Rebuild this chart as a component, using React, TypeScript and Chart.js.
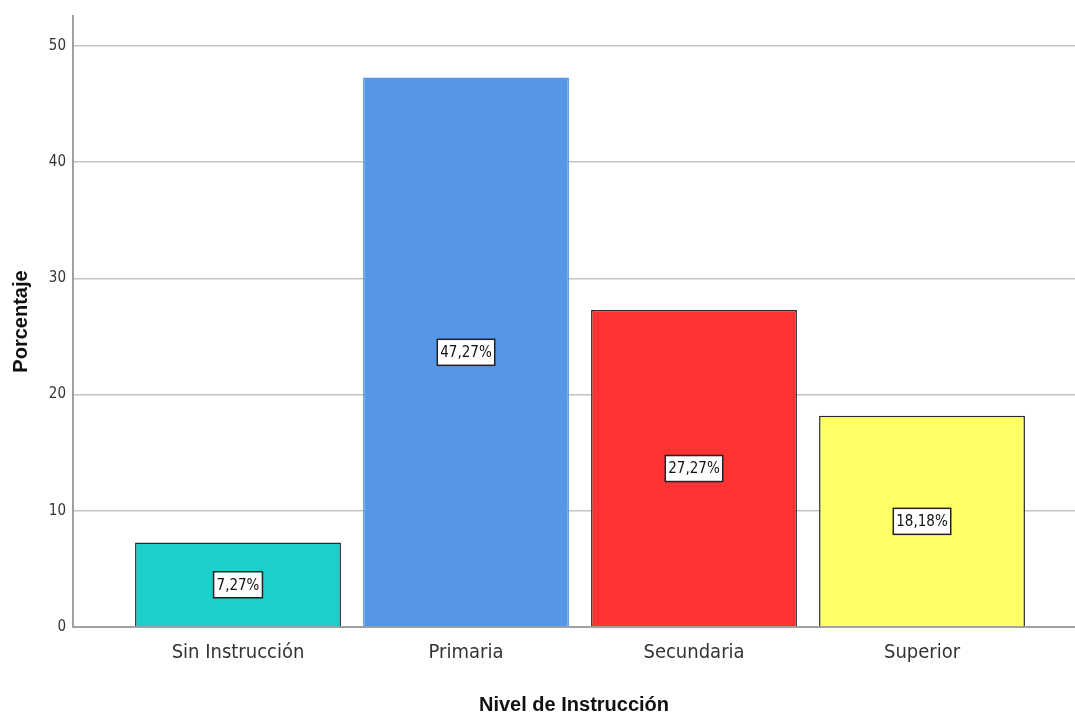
import React, { useEffect, useRef } from "react";
import { Chart, registerables } from "chart.js";

Chart.register(...registerables);

const categories = ["Sin Instrucción", "Primaria", "Secundaria", "Superior"];
const values = [7.27, 47.27, 27.27, 18.18];
const valueLabels = ["7,27%", "47,27%", "27,27%", "18,18%"];
const yTicks = [0, 10, 20, 30, 40, 50];
const barColors = ["#1ccfcb", "#5596e6", "#ff3333", "#ffff66"];
const barBorders = ["#2a2a2a", "#5596e6", "#2a2a2a", "#2a2a2a"];

const NARROW = "'DejaVu Sans Condensed', 'Liberation Sans Narrow', sans-serif";
const ARIAL = "'Liberation Sans', Arial, sans-serif";

const labelPlugin = {
  id: "boxLabels",
  afterDatasetsDraw(chart: any) {
    const ctx = chart.ctx;
    const meta = chart.getDatasetMeta(0);
    const ys = chart.scales.y;
    ctx.save();
    ctx.font = `15px ${NARROW}`;
    ctx.textAlign = "center";
    ctx.textBaseline = "middle";
    meta.data.forEach((bar: any, i: number) => {
      const cx = bar.x;
      const cy = ys.getPixelForValue(values[i] / 2);
      const w = ctx.measureText(valueLabels[i]).width + 6;
      const h = 26;
      ctx.fillStyle = "#ffffff";
      ctx.fillRect(cx - w / 2, cy - h / 2, w, h);
      ctx.strokeStyle = "#222";
      ctx.lineWidth = 1.5;
      ctx.strokeRect(cx - w / 2, cy - h / 2, w, h);
      ctx.fillStyle = "#111";
      ctx.fillText(valueLabels[i], cx, cy + 1);
    });
    ctx.restore();
  },
};

export default function App() {
  const ref = useRef<HTMLCanvasElement>(null);
  useEffect(() => {
    document.body.style.margin = "0";
    const chart = new Chart(ref.current!, {
      type: "bar",
      data: {
        datasets: [
          {
            data: values.map((v, i) => ({ x: i, y: v })),
            backgroundColor: barColors,
            borderColor: barBorders,
            borderWidth: 1.5,
            categoryPercentage: 1,
            barPercentage: 0.903,
          } as any,
        ],
      },
      options: {
        animation: false,
        responsive: false,
        maintainAspectRatio: false,
        layout: { padding: { top: 14, right: 0, left: 0, bottom: 0 } },
        plugins: { legend: { display: false }, tooltip: { enabled: false } },
        scales: {
          x: {
            type: "linear",
            offset: false,
            min: -0.7237,
            max: 3.671,
            afterBuildTicks: (s: any) => {
              s.ticks = categories.map((_, i) => ({ value: i }));
            },
            afterFit: (s: any) => {
              s.height = 88;
            },
            ticks: {
              callback: (v: any) => categories[v] ?? "",
              color: "#333",
              font: { family: NARROW, size: 20 },
              padding: 14,
              maxRotation: 0,
              autoSkip: false,
            },
            grid: { display: false, drawTicks: false },
            border: { color: "#a0a0a0", width: 2 },
            title: {
              display: true,
              text: "Nivel de Instrucción",
              color: "#111",
              font: { family: ARIAL, size: 20, weight: "bold", lineHeight: 1 },
              padding: { top: 0, bottom: 0 },
            },
          } as any,
          y: {
            min: 0,
            max: 52.57,
            afterBuildTicks: (s: any) => {
              s.ticks = yTicks.map((v) => ({ value: v }));
            },
            afterFit: (s: any) => {
              s.width = 73;
            },
            ticks: {
              color: "#333",
              font: { family: NARROW, size: 15 },
              padding: 7,
            },
            grid: { color: "#c4c4c4", lineWidth: 1.5, drawTicks: false },
            border: { color: "#a0a0a0", width: 2 },
            title: {
              display: true,
              text: "Porcentaje",
              color: "#111",
              font: { family: ARIAL, size: 20, weight: "bold" },
              padding: { top: 9, bottom: 0 },
            },
          } as any,
        },
      },
      plugins: [labelPlugin],
    });
    return () => chart.destroy();
  }, []);
  return <canvas ref={ref} width={1075} height={715} style={{ display: "block" }} />;
}
